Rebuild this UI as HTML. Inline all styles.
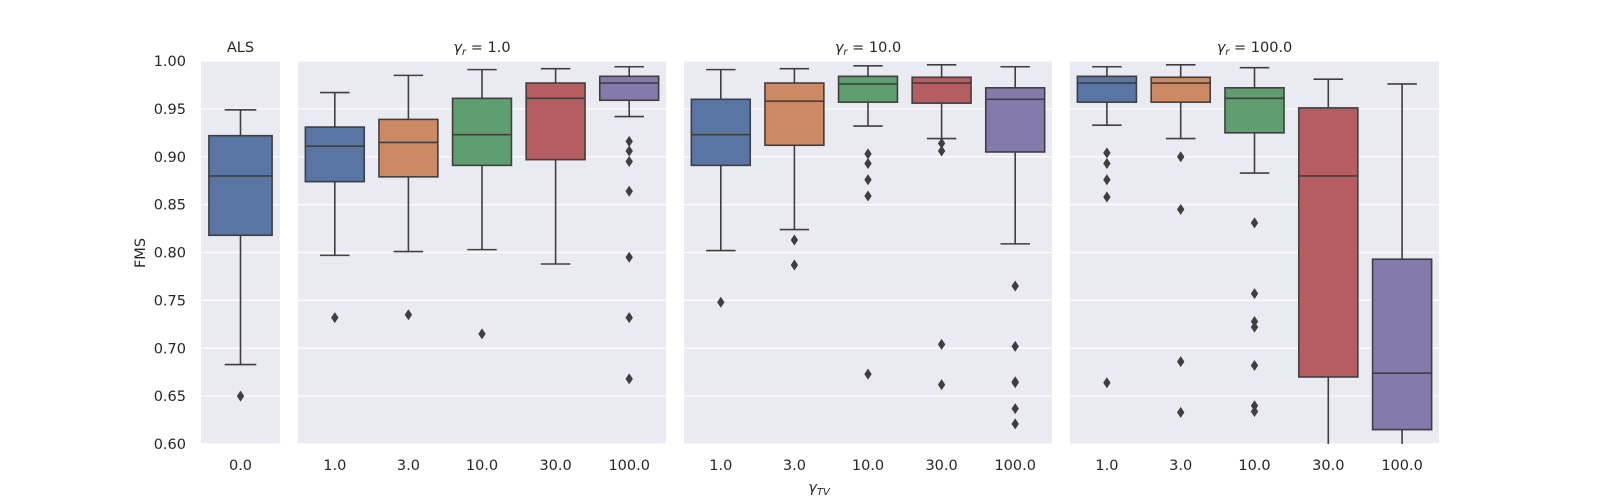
<!DOCTYPE html>
<html><head><meta charset="utf-8"><style>
html,body{margin:0;padding:0;background:#fff;width:1600px;height:500px;overflow:hidden}
svg{display:block}
text{font-family:"DejaVu Sans","Liberation Sans",sans-serif;fill:#262626}
</style></head><body>
<svg id="chart" width="1600" height="500" xmlns="http://www.w3.org/2000/svg"></svg>
<script>
const panelTitles = ["ALS", "γr = 1.0", "γr = 10.0", "γr = 100.0"];
const panelCategories = [["0.0"], ["1.0","3.0","10.0","30.0","100.0"], ["1.0","3.0","10.0","30.0","100.0"], ["1.0","3.0","10.0","30.0","100.0"]];
const yTicks = [0.60,0.65,0.70,0.75,0.80,0.85,0.90,0.95,1.00];
// each: [whiskerLow, q1, median, q3, whiskerHigh]
const statsALS = [[0.683,0.818,0.880,0.922,0.949]];
const statsR1 = [[0.797,0.874,0.911,0.931,0.967],[0.801,0.879,0.915,0.939,0.985],[0.803,0.891,0.923,0.961,0.991],[0.788,0.897,0.961,0.977,0.992],[0.942,0.959,0.977,0.984,0.994]];
const statsR10 = [[0.802,0.891,0.923,0.960,0.991],[0.824,0.912,0.958,0.977,0.992],[0.932,0.957,0.976,0.984,0.995],[0.919,0.956,0.977,0.983,0.996],[0.809,0.905,0.960,0.972,0.994]];
const statsR100 = [[0.933,0.957,0.977,0.984,0.994],[0.919,0.957,0.977,0.983,0.996],[0.883,0.925,0.961,0.972,0.993],[0.59,0.670,0.880,0.951,0.981],[0.59,0.615,0.674,0.793,0.976]];
const outALS = [[0.650]];
const outR1 = [[0.732],[0.735],[0.715],[],[0.916,0.906,0.895,0.864,0.795,0.732,0.668]];
const outR10 = [[0.748],[0.813,0.787],[0.903,0.893,0.876,0.859,0.673],[0.914,0.906,0.704,0.662],[0.765,0.702,0.665,0.664,0.637,0.621]];
const outR100 = [[0.904,0.893,0.876,0.858,0.664],[0.900,0.845,0.686,0.633],[0.831,0.757,0.728,0.722,0.682,0.640,0.634],[],[]];

const allStats=[statsALS,statsR1,statsR10,statsR100];
const allOut=[outALS,outR1,outR10,outR100];
const colors=["#5875a4","#cc8963","#5f9e6e","#b55d60","#857aab"];
const panels=[[201,280],[298,666],[684,1052],[1070,1439]];
const plotTop=61,plotBot=444,yMin=0.6,yMax=1.0;
const yScale=v=>plotBot-(v-yMin)/(yMax-yMin)*(plotBot-plotTop);
const svg=document.getElementById('chart');
const NS="http://www.w3.org/2000/svg";
function mk(tag,attrs,parent){const e=document.createElementNS(NS,tag);for(const k in attrs)e.setAttribute(k,attrs[k]);(parent||svg).appendChild(e);return e;}
const defs=mk('defs',{});
panels.forEach((p,pi)=>{
  const cp=mk('clipPath',{id:'cp'+pi},defs);
  mk('rect',{x:p[0],y:plotTop,width:p[1]-p[0],height:plotBot-plotTop},cp);
});
panels.forEach((p,pi)=>{
  const g=mk('g',{});
  
  
  const bg=mk('rect',{x:p[0],y:plotTop,width:p[1]-p[0],height:plotBot-plotTop,fill:'#eaeaf2'},g);
  
  
  yTicks.forEach(t=>{const l=mk('line',{x1:p[0],x2:p[1],y1:yScale(t),y2:yScale(t),stroke:'#fff','stroke-width':1.2},g);
    
    });
  const tt=mk('text',{x:(p[0]+p[1])/2,y:52,'text-anchor':'middle','font-size':14.5},g);
  
  
  if(pi===0)tt.textContent=panelTitles[0];
  else{const rest=panelTitles[pi].slice(2);const a=mk('tspan',{'font-style':'italic'},tt);a.textContent='γ';
    const b=mk('tspan',{'font-style':'italic','font-size':10,dy:3},tt);b.textContent='r';
    const c=mk('tspan',{dy:-3},tt);c.textContent=rest;}
  const cats=panelCategories[pi];const n=cats.length;const w=(p[1]-p[0])/n;
  const cg=mk('g',{'clip-path':'url(#cp'+pi+')'},g);
  cats.forEach((c,ci)=>{
    const cx=p[0]+w*(ci+0.5);const bw=w*0.8;
    const s=allStats[pi][ci];
    const bx=mk('g',{},cg);
    
    
    const st={stroke:'#3f3f3f','stroke-width':1.6,fill:'none'};
    mk('line',Object.assign({x1:cx,x2:cx,y1:yScale(s[0]),y2:yScale(s[1])},st),bx);
    mk('line',Object.assign({x1:cx,x2:cx,y1:yScale(s[3]),y2:yScale(s[4])},st),bx);
    mk('line',Object.assign({x1:cx-bw/4,x2:cx+bw/4,y1:yScale(s[0]),y2:yScale(s[0])},st),bx);
    mk('line',Object.assign({x1:cx-bw/4,x2:cx+bw/4,y1:yScale(s[4]),y2:yScale(s[4])},st),bx);
    mk('rect',{x:cx-bw/2,y:yScale(s[3]),width:bw,height:yScale(s[1])-yScale(s[3]),fill:colors[pi===0?0:ci],stroke:'#3f3f3f','stroke-width':1.6},bx);
    mk('line',Object.assign({x1:cx-bw/2,x2:cx+bw/2,y1:yScale(s[2]),y2:yScale(s[2])},st),bx);
    allOut[pi][ci].forEach(o=>{const yy=yScale(o);
      const d=mk('polygon',{points:`${cx},${yy-5.5} ${cx+3.7},${yy} ${cx},${yy+5.5} ${cx-3.7},${yy}`,fill:'#3f3f3f'},bx);
      
      });
    const xl=mk('text',{x:cx,y:470,'text-anchor':'middle','font-size':14.5},g);
    
    
    xl.textContent=c;
  });
});
yTicks.forEach(t=>{const tl=mk('text',{x:186,y:yScale(t)+5,'text-anchor':'end','font-size':14.5});
  
  
  tl.textContent=t.toFixed(2);});
const yl=mk('text',{x:145,y:253,'text-anchor':'middle','font-size':14.5,transform:'rotate(-90 145 253)'});


yl.textContent='FMS';
const xt=mk('text',{x:819,y:492,'text-anchor':'middle','font-size':14.5});


const g1=mk('tspan',{'font-style':'italic'},xt);g1.textContent='γ';
const g2=mk('tspan',{'font-style':'italic','font-size':10,dy:3},xt);g2.textContent='TV';
</script>
</body></html>
